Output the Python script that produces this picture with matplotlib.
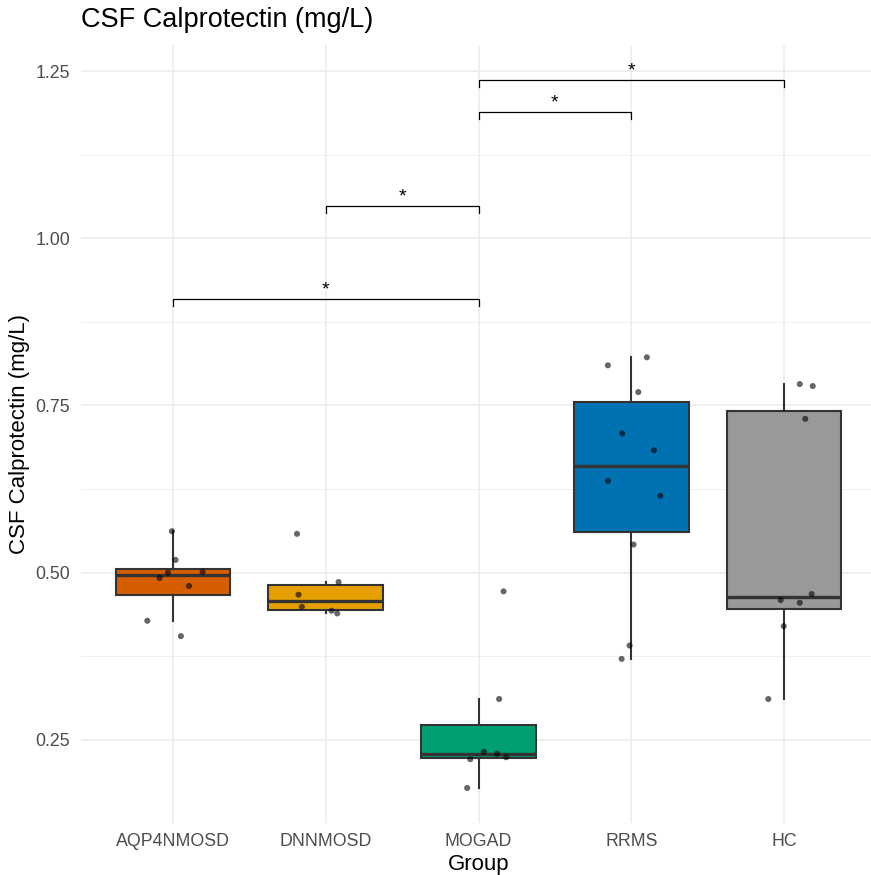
import matplotlib
matplotlib.use("Agg")
import matplotlib.pyplot as plt
from matplotlib.ticker import MultipleLocator

plt.rcParams["font.family"] = ["Liberation Sans", "DejaVu Sans"]

# Groups and CSF calprotectin measurements (mg/L)
groups = ["AQP4NMOSD", "DNNMOSD", "MOGAD", "RRMS", "HC"]
aqp4_vals = [0.562, 0.519, 0.500, 0.501, 0.492, 0.480, 0.428, 0.405]
dnn_vals = [0.558, 0.486, 0.467, 0.449, 0.443, 0.439]
mogad_vals = [0.472, 0.311, 0.232, 0.229, 0.224, 0.221, 0.178]
rrms_vals = [0.810, 0.822, 0.770, 0.708, 0.683, 0.637, 0.615, 0.542, 0.391, 0.371]
hc_vals = [0.782, 0.779, 0.730, 0.468, 0.459, 0.455, 0.420, 0.311]
group_values = [aqp4_vals, dnn_vals, mogad_vals, rrms_vals, hc_vals]

# Horizontal jitter of each point, in category units
aqp4_jit = [-0.007, 0.017, -0.033, 0.194, -0.088, 0.105, -0.168, 0.052]
dnn_jit = [-0.188, 0.084, -0.178, -0.156, 0.038, 0.075]
mogad_jit = [0.164, 0.135, 0.035, 0.122, 0.181, -0.054, -0.074]
rrms_jit = [-0.153, 0.102, 0.046, -0.059, 0.148, -0.153, 0.19, 0.015, -0.011, -0.063]
hc_jit = [0.103, 0.188, 0.139, 0.181, -0.022, 0.103, -0.002, -0.103]
group_jitter = [aqp4_jit, dnn_jit, mogad_jit, rrms_jit, hc_jit]

colors = ["#D55E00", "#E69F00", "#009E73", "#0072B2", "#999999"]

# Significance brackets: (group a, group b, height, label)
comp_a = [0, 1, 2, 2]
comp_b = [2, 2, 3, 4]
comp_y = [0.909, 1.048, 1.189, 1.2365]
comp_lab = ["*", "*", "*", "*"]

W, H = 871, 875
fig = plt.figure(figsize=(W / 100, H / 100), dpi=100)
left_px, right_px = 81.3, 875.7
top_px, bot_px = 45, 823
ax = fig.add_axes([left_px / W, (H - bot_px) / H,
                   (right_px - left_px) / W, (bot_px - top_px) / H])

positions = list(range(len(groups)))
edge = "#333333"
bp = ax.boxplot(group_values, positions=positions, widths=0.75,
                whis=1.5, showfliers=False, showcaps=False,
                patch_artist=True, zorder=2,
                boxprops=dict(edgecolor=edge, linewidth=1.5),
                whiskerprops=dict(color=edge, linewidth=1.5),
                medianprops=dict(color=edge, linewidth=2.4))
for patch, c in zip(bp["boxes"], colors):
    patch.set_facecolor(c)

for i, (vals, jit) in enumerate(zip(group_values, group_jitter)):
    xs = [i + j for j in jit]
    ax.scatter(xs, vals, s=19, color="black", alpha=0.6,
               edgecolors="none", zorder=3)

tick_h = 0.0105
for a, b, y, lab in zip(comp_a, comp_b, comp_y, comp_lab):
    ax.plot([a, a, b, b], [y - tick_h, y, y, y - tick_h],
            color="black", linewidth=0.9, zorder=4, solid_joinstyle="miter")
    ax.annotate(lab, xy=((a + b) / 2, y), xytext=(0, 0.5),
                textcoords="offset points", ha="center", va="bottom",
                fontsize=14, color="black")

ax.set_xlim(-0.6, 4.6)
ax.set_ylim(0.1256, 1.289)
ax.set_xticks(positions)
ax.set_xticklabels(groups)
ax.yaxis.set_minor_locator(MultipleLocator(0.125))
ax.set_yticks([0.25, 0.50, 0.75, 1.00, 1.25])
ax.set_yticklabels(["0.25", "0.50", "0.75", "1.00", "1.25"])

ax.set_axisbelow(True)
ax.grid(True, which="major", color="#EBEBEB", linewidth=1.1)
ax.grid(True, which="minor", axis="y", color="#EBEBEB", linewidth=0.55)
for s in ax.spines.values():
    s.set_visible(False)
ax.tick_params(axis="both", which="both", length=0, labelsize=12.8,
               labelcolor="#4D4D4D")
ax.tick_params(axis="y", pad=8)
ax.tick_params(axis="x", pad=7)

ax.set_xlabel("Group", fontsize=16, color="black", labelpad=3)
ax.set_ylabel("CSF Calprotectin (mg/L)", fontsize=16, color="black", labelpad=4)
fig.text(left_px / W, 1 - 20 / H, "CSF Calprotectin (mg/L)", fontsize=19.5,
         ha="left", va="center", color="black")

fig.savefig("out.png", dpi=100, facecolor="white")
